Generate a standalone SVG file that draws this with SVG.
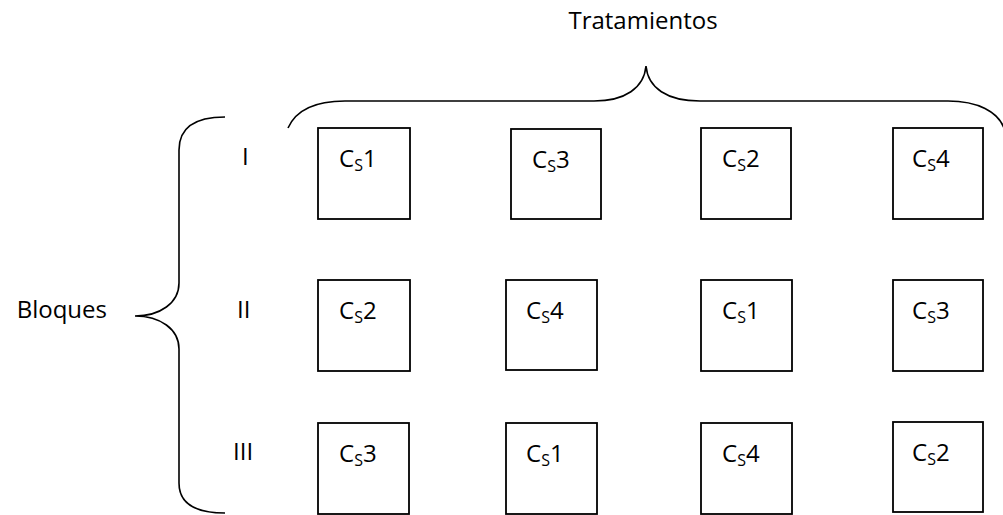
<svg xmlns="http://www.w3.org/2000/svg" width="1003" height="515" viewBox="0 0 1003 515">
<style>
.box{fill:#fff;stroke:#000;stroke-width:1.8}
.br{fill:none;stroke:#000;stroke-width:1.6}
text{font-family:"Open Sans","Liberation Sans",sans-serif;font-size:24px;fill:#000}
.sub{font-size:16px}
</style>
<rect width="1003" height="515" fill="#fff"/>
<g id="connectors">
<path class="br" d="M288,128 C296,110 315,101 345,101 L594,101 C625,101 644,88 646,66 C648,88 667,101 700,101 L948,101 C978,101 998,112 1004,128"/>
<path class="br" d="M225,117 C195,117 179,128 179,150 L179,283 C179,303 160,316 135,316 C160,316 179,329 179,349 L179,483 C179,503 195,513 225,513"/>
</g>
<g id="label-tratamientos"><text x="643" y="29" text-anchor="middle">Tratamientos</text></g>
<g id="label-bloques"><text x="107" y="318" text-anchor="end">Bloques</text></g>
<g id="row-I"><text x="242" y="165">I</text></g>
<g id="row-II"><text x="237" y="318">II</text></g>
<g id="row-III"><text x="233" y="460">III</text></g>
<g id="n11"><rect class="box" x="318" y="128" width="92" height="91"/><text x="339" y="167">C<tspan class="sub" dy="4">S</tspan><tspan dy="-4">1</tspan></text></g>
<g id="n12"><rect class="box" x="511" y="129" width="90" height="90"/><text x="532" y="168">C<tspan class="sub" dy="4">S</tspan><tspan dy="-4">3</tspan></text></g>
<g id="n13"><rect class="box" x="701" y="128" width="90" height="91"/><text x="722" y="167">C<tspan class="sub" dy="4">S</tspan><tspan dy="-4">2</tspan></text></g>
<g id="n14"><rect class="box" x="893" y="128" width="90" height="91"/><text x="912" y="167">C<tspan class="sub" dy="4">S</tspan><tspan dy="-4">4</tspan></text></g>
<g id="n21"><rect class="box" x="318" y="280" width="92" height="91"/><text x="339" y="319">C<tspan class="sub" dy="4">S</tspan><tspan dy="-4">2</tspan></text></g>
<g id="n22"><rect class="box" x="506" y="280" width="91" height="90"/><text x="526" y="319">C<tspan class="sub" dy="4">S</tspan><tspan dy="-4">4</tspan></text></g>
<g id="n23"><rect class="box" x="701" y="280" width="91" height="91"/><text x="722" y="319">C<tspan class="sub" dy="4">S</tspan><tspan dy="-4">1</tspan></text></g>
<g id="n24"><rect class="box" x="893" y="280" width="90" height="91"/><text x="912" y="319">C<tspan class="sub" dy="4">S</tspan><tspan dy="-4">3</tspan></text></g>
<g id="n31"><rect class="box" x="318" y="423" width="91" height="91"/><text x="339" y="462">C<tspan class="sub" dy="4">S</tspan><tspan dy="-4">3</tspan></text></g>
<g id="n32"><rect class="box" x="506" y="423" width="91" height="91"/><text x="526" y="462">C<tspan class="sub" dy="4">S</tspan><tspan dy="-4">1</tspan></text></g>
<g id="n33"><rect class="box" x="701" y="423" width="91" height="91"/><text x="722" y="462">C<tspan class="sub" dy="4">S</tspan><tspan dy="-4">4</tspan></text></g>
<g id="n34"><rect class="box" x="893" y="422" width="90" height="90"/><text x="912" y="461">C<tspan class="sub" dy="4">S</tspan><tspan dy="-4">2</tspan></text></g>
</svg>
